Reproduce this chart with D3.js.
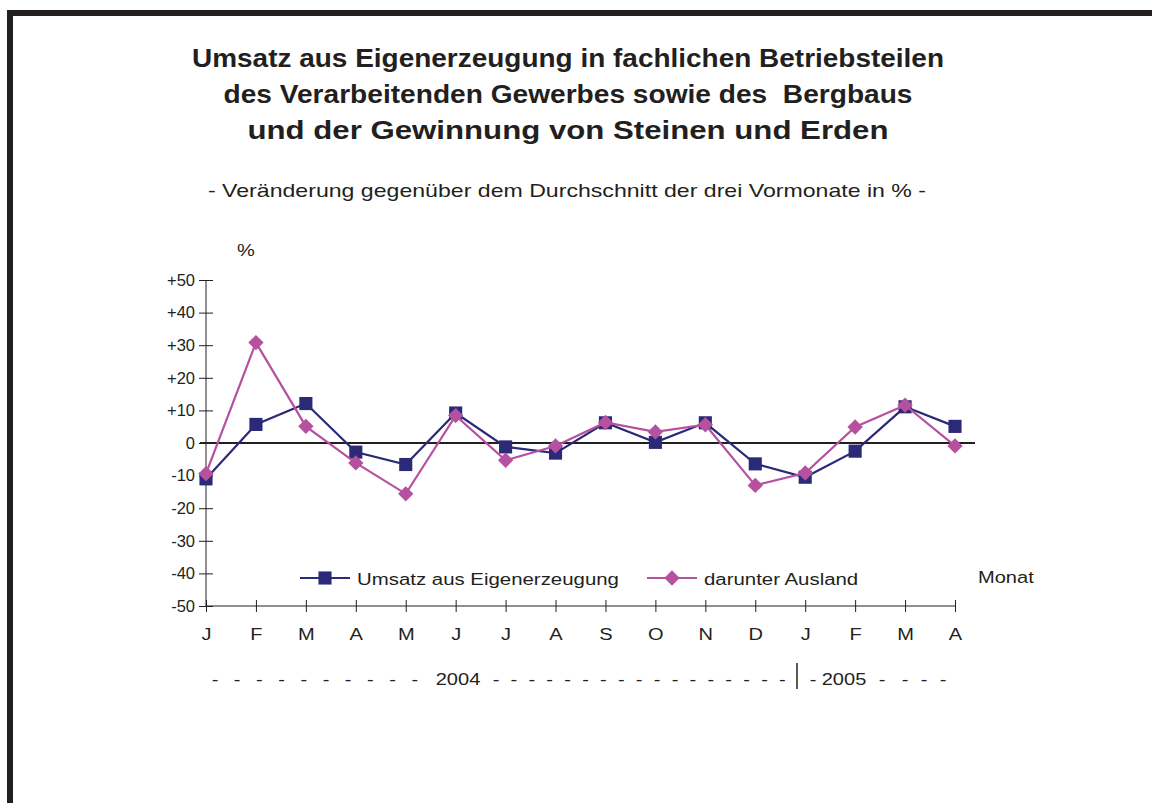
<!DOCTYPE html>
<html>
<head>
<meta charset="utf-8">
<script src="https://cdn.jsdelivr.net/npm/d3@7"></script>
<style>
  body { margin: 0; background: #fff; }
  svg { display: block; font-family: "Liberation Sans", Arial, sans-serif; }
</style>
</head>
<body>
<div id="chart"></div>
<script>
// months Jan 2004 - Apr 2005
const months = ["J","F","M","A","M","J","J","A","S","O","N","D","J","F","M","A"];
const umsatz = [-11.0, 5.7, 12.1, -2.8, -6.6, 9.2, -1.2, -3.1, 6.2, 0.2, 6.2, -6.4, -10.5, -2.5, 11.1, 5.1];
const ausland = [-9.4, 30.8, 5.1, -6.1, -15.6, 8.4, -5.3, -0.9, 6.3, 3.4, 5.6, -13.0, -9.2, 4.9, 11.6, -0.9];
const seriesNames = ["Umsatz aus Eigenerzeugung", "darunter Ausland"];
const yTicks = [50, 40, 30, 20, 10, 0, -10, -20, -30, -40, -50];
const titleLines = [
  "Umsatz aus Eigenerzeugung in fachlichen Betriebsteilen",
  "des Verarbeitenden Gewerbes sowie des  Bergbaus",
  "und der Gewinnung von Steinen und Erden"
];
const titleWidths = [752, 689, 641];
const subtitle = "- Veränderung gegenüber dem Durchschnitt der drei Vormonate in % -";

const navy = "#2b2a78", magenta = "#b6519f", ink = "#231f20";
const K = 1.18; // horizontal stretch of the original lettering

const width = 1152, height = 803;
const svg = d3.select("#chart").append("svg")
  .attr("width", width).attr("height", height);

// stretch text horizontally around its own anchor point
const stretch = sel => sel.attr("transform", function () {
  const tx = +this.getAttribute("x") || 0, ty = +this.getAttribute("y") || 0;
  return `translate(${tx},${ty}) scale(${K},1) translate(${-tx},${-ty})`;
});

// frame (only top and left edges visible)
svg.append("rect")
  .attr("x", 10).attr("y", 13)
  .attr("width", 1200).attr("height", 900)
  .attr("fill", "none").attr("stroke", ink).attr("stroke-width", 6);

// titles
svg.append("g").selectAll("text")
  .data(titleLines).join("text")
  .attr("x", 568).attr("y", (d, i) => 67 + i * 36)
  .attr("text-anchor", "middle")
  .attr("font-size", 25).attr("font-weight", "bold").attr("fill", ink)
  .attr("xml:space", "preserve")
  .attr("textLength", (d, i) => titleWidths[i])
  .attr("lengthAdjust", "spacingAndGlyphs")
  .text(d => d);

svg.append("text")
  .attr("x", 567).attr("y", 197)
  .attr("text-anchor", "middle")
  .attr("font-size", 19).attr("fill", ink)
  .attr("textLength", 718).attr("lengthAdjust", "spacingAndGlyphs")
  .text(subtitle);

// scales
const x = d3.scalePoint().domain(d3.range(months.length)).range([206, 955]);
const y = d3.scaleLinear().domain([-50, 50]).range([606, 280]);

// y axis
const yAxis = svg.append("g")
  .attr("transform", "translate(206,0)")
  .call(d3.axisLeft(y).tickValues(yTicks).tickSize(7)
    .tickFormat(d => d > 0 ? "+" + d : String(d)));
yAxis.select(".domain").remove();
yAxis.append("line").attr("y1", 280).attr("y2", 606).attr("stroke", ink);
yAxis.selectAll(".tick line").attr("x1", -7).attr("x2", 7).attr("stroke", ink);
yAxis.selectAll(".tick text").attr("x", -11).attr("font-size", 16.5)
  .attr("font-family", "Liberation Sans, Arial, sans-serif").attr("fill", ink);

svg.append("text").attr("x", 246).attr("y", 256)
  .attr("text-anchor", "middle").attr("font-size", 17).attr("fill", ink).text("%")
  .call(stretch);

// x axis at bottom
const xAxis = svg.append("g")
  .attr("transform", "translate(0,606)")
  .call(d3.axisBottom(x).tickSize(6).tickFormat(i => months[i]));
xAxis.select(".domain").attr("d", "M206,0H955").attr("stroke", ink);
xAxis.selectAll(".tick line").attr("y1", -6).attr("y2", 6).attr("stroke", ink);
xAxis.selectAll(".tick text").attr("y", 22).attr("dy", "0.71em").attr("font-size", 17)
  .attr("font-family", "Liberation Sans, Arial, sans-serif").attr("fill", ink)
  .call(stretch);

svg.append("text").attr("x", 978).attr("y", 583)
  .attr("font-size", 17).attr("fill", ink).text("Monat")
  .call(stretch);

// zero line
svg.append("line")
  .attr("x1", 200).attr("x2", 975)
  .attr("y1", y(0)).attr("y2", y(0))
  .attr("stroke", ink).attr("stroke-width", 2);

// year row
const yr = svg.append("g").attr("font-size", 17).attr("fill", ink);
const yearText = (px, t) => yr.append("text").attr("x", px).attr("y", 685)
  .attr("text-anchor", "middle").text(t).call(stretch);
d3.range(10).forEach(i => yearText(215 + i * 22.2, "-"));
yearText(458, "2004");
d3.range(17).forEach(i => yearText(496 + i * 17.9, "-"));
yr.append("line").attr("x1", 797).attr("x2", 797).attr("y1", 663).attr("y2", 689)
  .attr("stroke", ink).attr("stroke-width", 1.5);
yearText(813, "-");
yearText(844, "2005");
[882, 905, 924, 943].forEach(px => yearText(px, "-"));

// series
const line = d3.line().x((d, i) => x(i)).y(d => y(d));
const square = d3.symbol(d3.symbolSquare, 172)();
const diamond = d3.symbol(d3.symbolSquare, 118)();
const series = [
  { name: seriesNames[0], values: umsatz, color: navy, marker: square, rot: 0 },
  { name: seriesNames[1], values: ausland, color: magenta, marker: diamond, rot: 45 }
];
series.forEach(s => {
  svg.append("path").datum(s.values)
    .attr("d", line).attr("fill", "none")
    .attr("stroke", s.color).attr("stroke-width", 2.2);
  svg.append("g").selectAll("path")
    .data(s.values).join("path")
    .attr("transform", (d, i) => `translate(${x(i)},${y(d)}) rotate(${s.rot})`)
    .attr("d", s.marker)
    .attr("fill", s.color);
});

// legend
const legendX = [300, 647];
series.forEach((s, i) => {
  const g = svg.append("g").attr("transform", `translate(${legendX[i]},578)`);
  g.append("line").attr("x1", 0).attr("x2", 50).attr("stroke", s.color).attr("stroke-width", 2.2);
  g.append("path").attr("d", s.marker).attr("fill", s.color)
    .attr("transform", `translate(25,0) rotate(${s.rot})`);
  g.append("text").attr("x", 57).attr("y", 6.5).attr("font-size", 17.3).attr("fill", ink)
    .text(s.name).call(stretch);
});
</script>
</body>
</html>
